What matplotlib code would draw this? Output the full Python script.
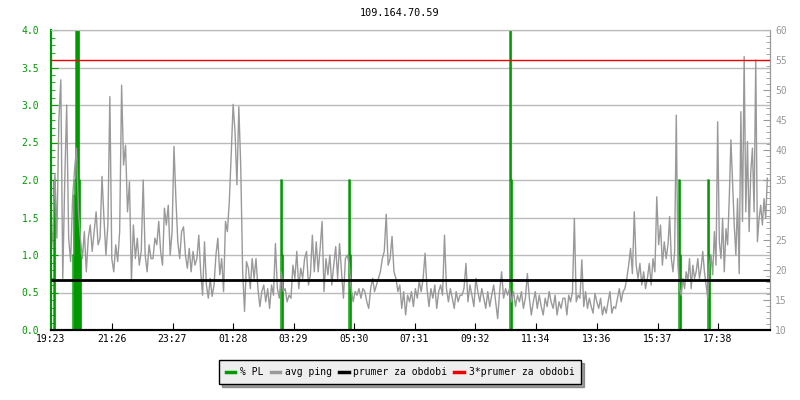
import numpy as np
import matplotlib
matplotlib.use("Agg")
import matplotlib.pyplot as plt
from matplotlib.lines import Line2D
from matplotlib.ticker import MultipleLocator, FormatStrFormatter

# --------------------------------------------------------------------------- #
# Data
# --------------------------------------------------------------------------- #
title = "109.164.70.59"

# x tick labels and their offset in minutes from the start (19:23)
tick_labels = ["19:23", "21:26", "23:27", "01:28", "03:29", "05:30",
               "07:31", "09:32", "11:34", "13:36", "15:37", "17:38"]
tick_minutes = [0, 123, 244, 365, 486, 607, 728, 849, 971, 1093, 1214, 1335]

# avg ping [ms], read in seven consecutive chunks of the day
seg_edges_min = [1, 205, 411, 617, 823, 1029, 1235, 1437]
ping_a = [22.5, 26.4, 36.1, 25.3, 45.0, 51.7, 18.6, 34.7, 47.5, 25.3, 21.4, 31.9,
          36.7, 40.3, 29.7, 25.3, 21.9, 26.4, 19.7, 25.3, 27.5, 23.1, 26.4, 29.7,
          24.2, 25.3, 35.6, 28.6, 22.5, 27.5, 48.9, 21.9, 19.7, 24.2, 21.4, 26.4,
          50.8, 37.5, 40.8, 29.7, 34.7, 18.1, 27.5, 21.9, 25.3, 20.8, 23.1, 35.0,
          22.5, 19.7, 24.2, 21.9]
ping_b = [21.9, 25.3, 24.2, 28.1, 23.1, 20.8, 30.3, 27.5, 30.8, 22.5, 26.4, 40.6,
          31.9, 24.7, 21.9, 26.4, 27.2, 22.5, 20.3, 23.6, 19.7, 23.1, 20.8, 21.9,
          25.8, 19.7, 15.8, 24.7, 17.5, 15.3, 18.6, 15.6, 17.5, 22.5, 25.3, 19.2,
          21.9, 16.4, 28.1, 26.4, 31.4, 39.2, 47.6, 43.1, 34.2, 47.2, 37.2, 19.7,
          13.1, 21.4, 20.3, 16.9, 21.9, 18.6]
ping_c = [21.9, 16.9, 13.9, 16.4, 17.5, 14.7, 16.9, 13.6, 17.5, 15.8, 24.4, 16.9,
          15.3, 19.7, 16.4, 16.9, 14.7, 15.8, 15.3, 20.8, 18.6, 23.1, 16.9, 20.3,
          18.6, 21.9, 23.1, 17.5, 19.2, 25.8, 19.7, 24.7, 19.7, 23.6, 28.1, 16.4,
          21.9, 19.2, 22.5, 17.5, 20.8, 23.9, 18.6, 24.4, 19.7, 15.3, 21.9, 22.5,
          20.8, 16.9, 14.7, 16.4, 15.8]
ping_d = [16.9, 15.3, 16.9, 16.4, 14.7, 13.6, 16.9, 18.6, 16.4, 17.5, 18.6, 19.7,
          21.9, 23.1, 29.3, 20.8, 21.9, 25.6, 19.7, 18.6, 16.4, 17.5, 13.6, 16.4,
          12.5, 15.8, 14.7, 16.4, 13.9, 16.9, 15.3, 18.1, 16.4, 18.6, 22.8, 16.9,
          13.9, 16.9, 15.3, 17.5, 13.6, 16.4, 17.5, 15.8, 25.8, 16.9, 14.7, 16.9,
          15.3, 13.6, 16.4, 14.7, 15.8]
ping_e = [15.8, 16.9, 21.1, 14.7, 17.5, 15.8, 13.9, 18.6, 16.4, 14.7, 16.9, 15.3,
          13.6, 16.4, 13.9, 15.8, 17.5, 14.7, 11.9, 16.4, 19.7, 15.3, 16.9, 15.8,
          16.9, 14.7, 16.4, 13.9, 15.8, 14.7, 16.4, 13.6, 15.3, 19.4, 15.3, 12.5,
          14.7, 16.4, 13.6, 15.8, 13.9, 12.5, 15.3, 13.9, 16.4, 14.7, 13.6, 15.8,
          12.5, 14.7, 13.6, 15.3]
ping_f = [15.3, 12.5, 15.8, 14.7, 16.4, 28.6, 14.7, 15.8, 15.3, 21.7, 13.9, 16.4,
          13.6, 15.3, 13.9, 12.8, 16.1, 14.7, 13.6, 15.3, 12.5, 13.9, 12.8, 14.7,
          16.4, 12.8, 13.9, 13.6, 15.3, 16.9, 14.7, 16.4, 16.9, 18.6, 20.8, 23.6,
          19.4, 29.7, 20.8, 18.6, 21.1, 17.5, 19.7, 16.9, 18.6, 21.1, 17.5, 21.9,
          19.7, 32.2, 24.2, 27.5, 20.8, 24.7, 21.9]
ping_g = [24.2, 28.9, 21.9, 19.7, 23.1, 45.8, 20.8, 16.9, 15.8, 18.6, 16.9, 19.7,
          18.1, 21.9, 16.9, 20.8, 18.6, 19.7, 21.9, 18.6, 20.3, 23.1, 19.7, 17.5,
          15.3, 20.8, 22.5, 19.2, 26.4, 20.8, 44.7, 24.7, 21.9, 28.6, 19.7, 26.9,
          24.2, 31.9, 41.7, 34.7, 27.5, 22.5, 31.9, 19.4, 46.4, 28.1, 55.6, 29.7,
          41.4, 26.4, 36.4, 40.3, 29.7, 55.0, 24.7, 28.6, 30.8, 27.5, 31.9, 28.6,
          35.3]
ping_segments = [ping_a, ping_b, ping_c, ping_d, ping_e, ping_f, ping_g]

# packet loss [%]: non-zero samples only (minute from start, value)
pl_minutes = [8, 45, 47, 49, 51, 53, 55, 57, 59, 462, 464, 598, 600,
              920, 922, 1258, 1260, 1316, 1318]
pl_values = [2.0, 1.0, 1.8, 2.0, 5.0, 2.0, 5.0, 2.0, 1.0, 2.0, 1.0, 2.0, 1.0,
             5.0, 2.0, 2.0, 1.0, 2.0, 1.0]
pl_step_min = 2
day_minutes = 1438

mean_ms = 18.33   # "prumer za obdobi"

# --------------------------------------------------------------------------- #
# Build series
# --------------------------------------------------------------------------- #
ping_t, ping_v = [], []
for k, seg in enumerate(ping_segments):
    ping_t.append(np.linspace(seg_edges_min[k], seg_edges_min[k + 1], len(seg), endpoint=False))
    ping_v.append(np.asarray(seg))
ping_t = np.concatenate(ping_t)
ping_v = np.concatenate(ping_v)

pl_t = np.arange(0, day_minutes + 1, pl_step_min)
pl_v = np.zeros_like(pl_t, dtype=float)
for m, v in zip(pl_minutes, pl_values):
    pl_v[np.searchsorted(pl_t, m)] = v

# --------------------------------------------------------------------------- #
# Plot
# --------------------------------------------------------------------------- #
GREEN = "#009900"
GRAY = "#999999"
GRID = "#bbbbbb"
RED = "#ee0000"
plt.rcParams["font.family"] = "DejaVu Sans Mono"
FS = 7

fig = plt.figure(figsize=(8, 4), dpi=100)
ax = fig.add_axes([50.5 / 800, 70 / 400, 719 / 800, 300 / 400])
ax2 = ax.twinx()

ax.set_xlim(0, day_minutes)
ax.set_ylim(0, 4.0)
ax2.set_ylim(10, 60)

ax.yaxis.set_major_locator(MultipleLocator(0.5))
ax.yaxis.set_minor_locator(MultipleLocator(0.1))
ax.grid(axis="y", which="major", color=GRID, lw=1)
ax.set_axisbelow(True)

# packet loss: filled steps, thin outline
ax.fill_between(pl_t, pl_v, step="mid", color=GREEN, lw=0, zorder=2)
ax.step(pl_t, pl_v, where="mid", color=GREEN, lw=1, zorder=2)

ax2.plot(ping_t, ping_v, color=GRAY, lw=1, zorder=2)
ax2.axhline(mean_ms, color="black", lw=2, zorder=4)
ax2.axhline(3 * mean_ms, color=RED, lw=1, zorder=4)

ax.set_xticks(tick_minutes)
ax.set_xticklabels(tick_labels)
ax.tick_params(axis="x", direction="in", length=5, colors="black", labelsize=FS, pad=3)
ax.tick_params(axis="y", which="major", direction="in", length=5, color=GREEN,
               labelcolor=GREEN, labelsize=FS, pad=8)
ax.tick_params(axis="y", which="minor", direction="in", length=3, color=GREEN)
ax.yaxis.set_major_formatter(FormatStrFormatter("%.1f"))

ax2.yaxis.set_major_locator(MultipleLocator(5))
ax2.yaxis.set_minor_locator(MultipleLocator(1))
ax2.tick_params(axis="y", which="major", direction="in", length=5, color=GRAY,
                labelcolor=GRAY, labelsize=FS, pad=4)
ax2.tick_params(axis="y", which="minor", direction="in", length=3, color=GRAY)

for a in (ax, ax2):
    a.spines["left"].set_color(GREEN)
    a.spines["left"].set_linewidth(1.5)
    a.spines["right"].set_color(GRAY)
    a.spines["top"].set_color(GRID)
    a.spines["bottom"].set_color("black")
    a.spines["bottom"].set_linewidth(1.5)

fig.text(0.5, 1 - 13 / 400, title, ha="center", va="center", fontsize=7.3)

handles = [Line2D([], [], color=GREEN, lw=2.5),
           Line2D([], [], color=GRAY, lw=2.5),
           Line2D([], [], color="black", lw=2.5),
           Line2D([], [], color=RED, lw=2.5)]
labels = ["% PL", "avg ping", "prumer za obdobi", "3*prumer za obdobi"]
leg = fig.legend(handles, labels, loc="center", bbox_to_anchor=(400 / 800, 1 - 372 / 400),
                 ncol=4, fontsize=FS, frameon=True, fancybox=False, shadow=True,
                 handlelength=1.0, handletextpad=0.45, columnspacing=0.75,
                 borderpad=0.7, borderaxespad=0)
leg.get_frame().set_edgecolor("black")
leg.get_frame().set_facecolor("#eeeeee")
leg.get_frame().set_alpha(1)

fig.savefig("out.png", dpi=100)
